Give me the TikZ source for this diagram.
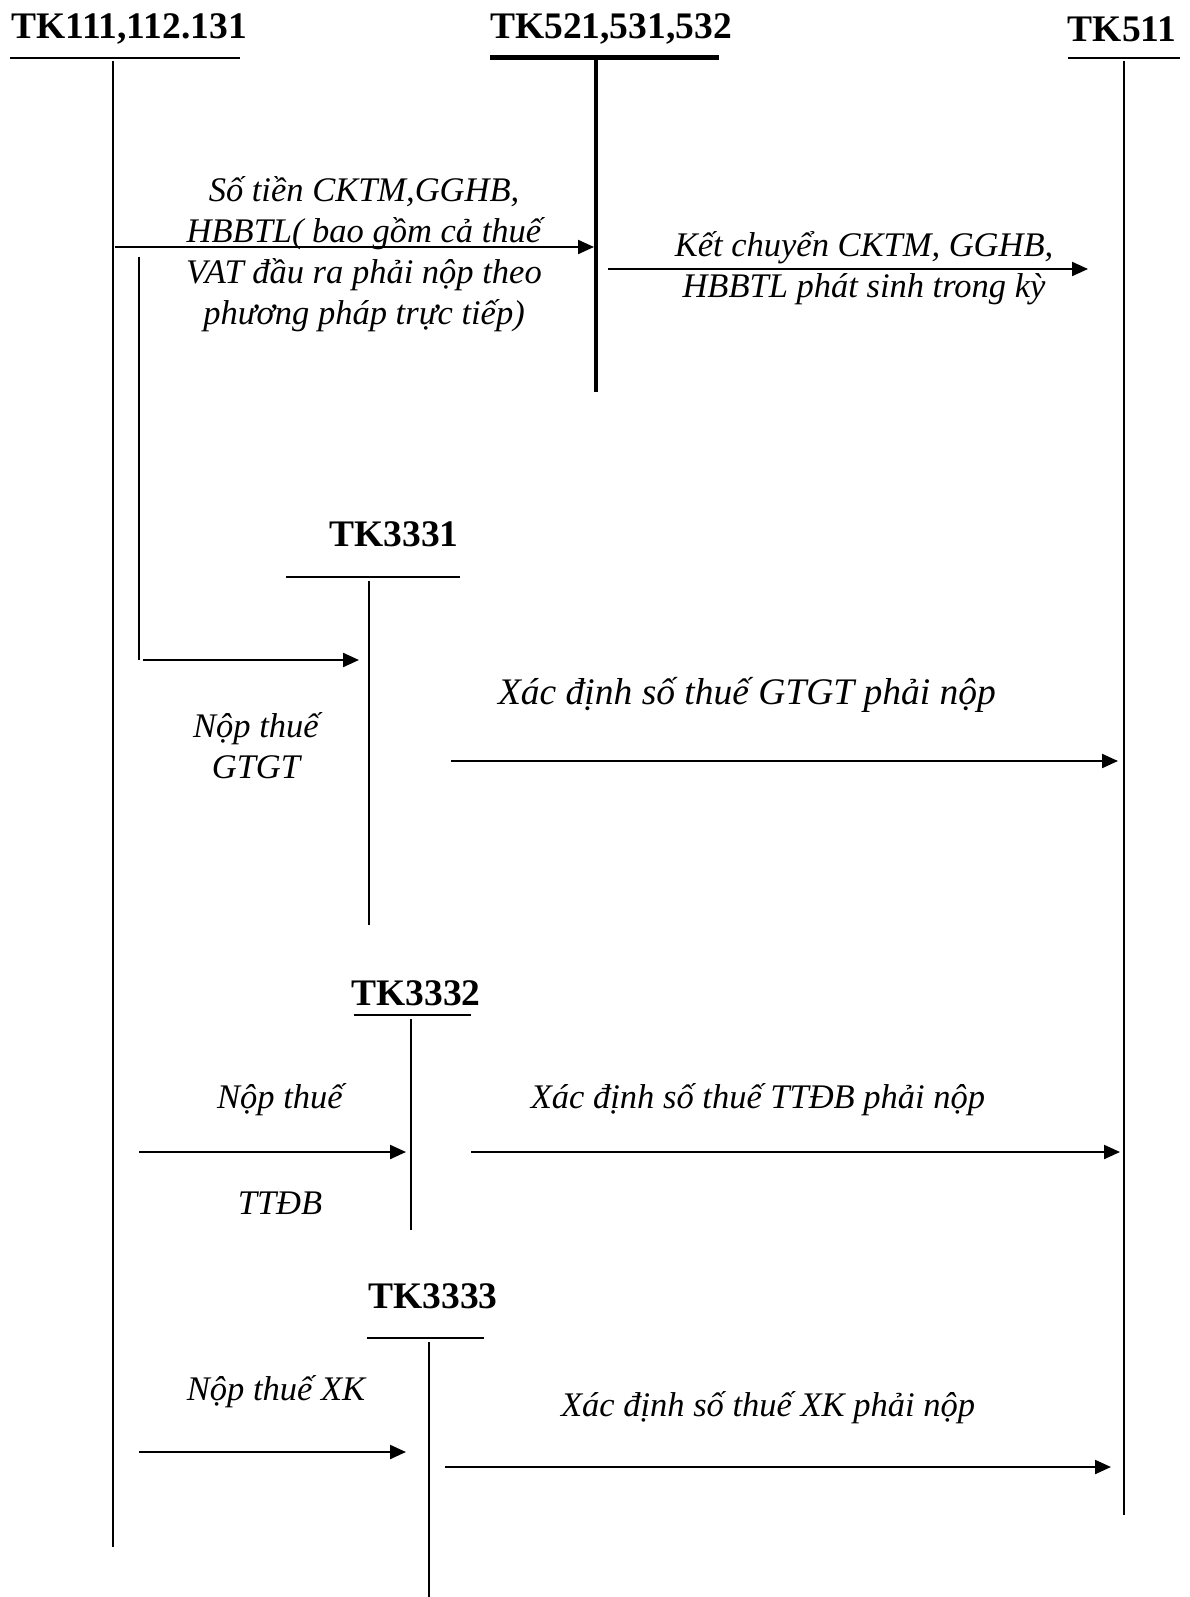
\documentclass[tikz,border=0pt]{standalone}
\usepackage{fontspec}
\setmainfont{Liberation Serif}
\usetikzlibrary{arrows.meta}
\begin{document}
\begin{tikzpicture}[x=1pt,y=-1pt]
\tikzstyle{every node}+=[inner sep=0pt]
\tikzstyle{acct}=[font=\fontsize{37.5}{40}\selectfont\bfseries]
\tikzstyle{note}=[font=\fontsize{34.5}{41}\selectfont\itshape, align=center]
\tikzstyle{tline}=[line width=1.6pt]
\tikzstyle{flow}=[line width=2.2pt, -{Triangle[length=16pt,width=14pt]}]
\useasboundingbox (0,0) rectangle (1189,1597);
% accounts
\node [acct] (tk111) at (129,29) {TK111,112.131};
\draw [tline] (10,58) -- (240,58);
\coordinate (t111a) at (113,61);
\coordinate (t111b) at (113,1547);
\draw [tline] (t111a) -- (t111b);
\node [acct] (tk521) at (611,29) {TK521,531,532};
\draw [line width=5pt] (490,58) -- (719,58);
\coordinate (t521a) at (596,58);
\coordinate (t521b) at (596,392);
\draw [line width=3.5pt] (t521a) -- (t521b);
\node [acct] (tk511) at (1122,29) {TK511};
\draw [tline] (1068,58) -- (1180,58);
\coordinate (t511a) at (1124,61);
\coordinate (t511b) at (1124,1515);
\draw [tline] (t511a) -- (t511b);
\node [acct] (tk3331) at (394,534) {TK3331};
\draw [tline] (286,577) -- (460,577);
\coordinate (t3331a) at (369,581);
\coordinate (t3331b) at (369,925);
\draw [tline] (t3331a) -- (t3331b);
\node [acct] (tk3332) at (416,993) {TK3332};
\draw [tline] (354,1015) -- (471,1015);
\coordinate (t3332a) at (411,1019);
\coordinate (t3332b) at (411,1230);
\draw [tline] (t3332a) -- (t3332b);
\node [acct] (tk3333) at (433,1296) {TK3333};
\draw [tline] (367,1338) -- (484,1338);
\coordinate (t3333a) at (429,1342);
\coordinate (t3333b) at (429,1597);
\draw [tline] (t3333a) -- (t3333b);
% flows
\coordinate (f1a) at (115,247);
\coordinate (f1b) at (594,247);
\draw [flow] (f1a) -- (f1b);
\node [note] (n1) at (364,254) {Số tiền CKTM,GGHB,\\HBBTL( bao gồm cả thuế\\VAT đầu ra phải nộp theo\\phương pháp trực tiếp)};
\coordinate (f2a) at (608,269);
\coordinate (f2b) at (1088,269);
\draw [flow] (f2a) -- (f2b);
\node [note] (n2) at (864,268) {Kết chuyển CKTM, GGHB,\\HBBTL phát sinh trong kỳ};
\coordinate (f3a) at (139,257);
\coordinate (f3b) at (139,660);
\coordinate (f3c) at (359,660);
\draw [tline] (f3a) -- (f3b);
\draw [flow] (143,660) -- (f3c);
\node [note] (n3) at (256,746) {Nộp thuế\\GTGT};
\coordinate (f4a) at (451,761);
\coordinate (f4b) at (1118,761);
\draw [flow] (f4a) -- (f4b);
\node [note, font=\fontsize{37.5}{41}\selectfont\itshape] (n4) at (747,695) {Xác định số thuế GTGT phải nộp};
\coordinate (f5a) at (139,1152);
\coordinate (f5b) at (406,1152);
\draw [flow] (f5a) -- (f5b);
\node [note] (n5) at (280,1100) {Nộp thuế};
\node [note] (n5b) at (280,1203) {TTĐB};
\coordinate (f6a) at (471,1152);
\coordinate (f6b) at (1120,1152);
\draw [flow] (f6a) -- (f6b);
\node [note] (n6) at (758,1100) {Xác định số thuế TTĐB phải nộp};
\coordinate (f7a) at (139,1452);
\coordinate (f7b) at (406,1452);
\draw [flow] (f7a) -- (f7b);
\node [note] (n7) at (276,1392) {Nộp thuế XK};
\coordinate (f8a) at (445,1467);
\coordinate (f8b) at (1111,1467);
\draw [flow] (f8a) -- (f8b);
\node [note] (n8) at (768,1408) {Xác định số thuế XK phải nộp};
\end{tikzpicture}
\end{document}
